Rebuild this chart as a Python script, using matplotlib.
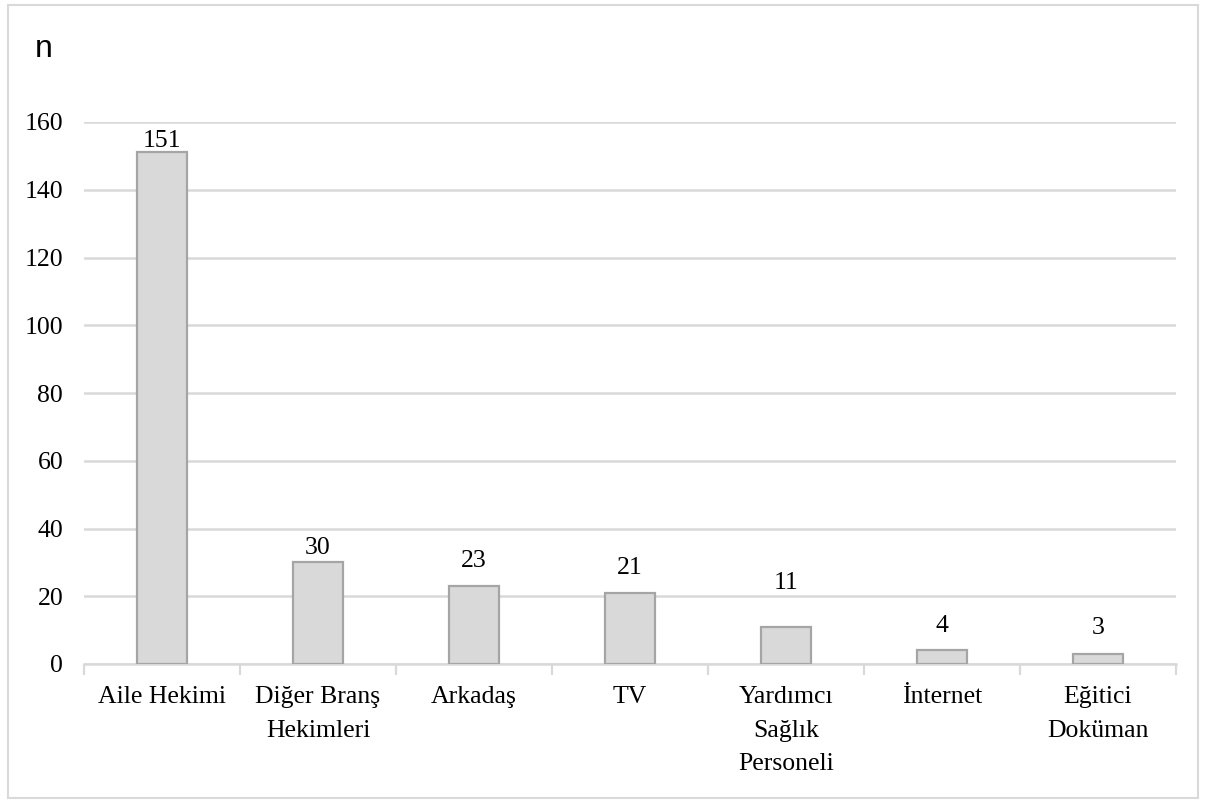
import matplotlib.pyplot as plt
import matplotlib.patches as patches
import numpy as np

# Information sources and respondent counts
categories = ['Aile Hekimi', 'Diğer Branş\nHekimleri', 'Arkadaş', 'TV',
              'Yardımcı\nSağlık\nPersoneli', 'İnternet', 'Eğitici\nDoküman']
counts = [151, 30, 23, 21, 11, 4, 3]
y_ticks = [0, 20, 40, 60, 80, 100, 120, 140, 160]

# gap between bar top and label baseline, in pixels
label_gaps = [5, 8, 19, 19, 38, 18, 20]

serif = 'Liberation Serif'
fs = 18.5
grid_col = '#d9d9d9'
bar_col = '#d9d9d9'
edge_col = '#a5a5a5'

fig = plt.figure(figsize=(12.08, 8.02), dpi=100)
ax = fig.add_axes([84 / 1208, 1 - 664 / 802, 1092 / 1208, 542 / 802])

x = np.arange(len(categories))
ax.bar(x, counts, width=0.32, color=bar_col, edgecolor=edge_col,
       linewidth=1.6, zorder=3)

for xi, v, gap in zip(x, counts, label_gaps):
    ax.annotate(str(v), (xi, v), xytext=(0, gap), textcoords='offset pixels',
                ha='center', va='baseline', fontsize=fs, family=serif, zorder=4)

ax.set_xlim(-0.5, len(categories) - 0.5)
ax.set_ylim(0, 160)
ax.set_yticks(y_ticks)
ax.set_yticklabels([str(t) for t in y_ticks], fontsize=fs, family=serif)
ax.yaxis.grid(True, color=grid_col, linewidth=1.8, zorder=0)
ax.tick_params(axis='y', length=0, pad=15)

# category labels centred under bars, tick marks on boundaries
ax.set_xticks(x)
ax.set_xticklabels(categories, fontsize=fs, family=serif, linespacing=1.68, va='top')
ax.tick_params(axis='x', length=0, pad=16)
ax.set_xticks(np.arange(-0.5, len(categories)), minor=True)
ax.tick_params(axis='x', which='minor', length=8, width=1.6, color=grid_col)

for side in ['top', 'right', 'left']:
    ax.spines[side].set_visible(False)
ax.spines['bottom'].set_color(grid_col)
ax.spines['bottom'].set_linewidth(1.8)

fig.text(35 / 1208, 1 - 49 / 802, 'n', fontsize=23, family='Liberation Sans',
         ha='left', va='center')

# outer chart frame
fig.patches.append(patches.Rectangle((8 / 1208, 4 / 802), 1190 / 1208, 793 / 802,
                                     transform=fig.transFigure, fill=False,
                                     edgecolor='#d9d9d9', linewidth=1.5))

fig.savefig('out.png', dpi=100)
